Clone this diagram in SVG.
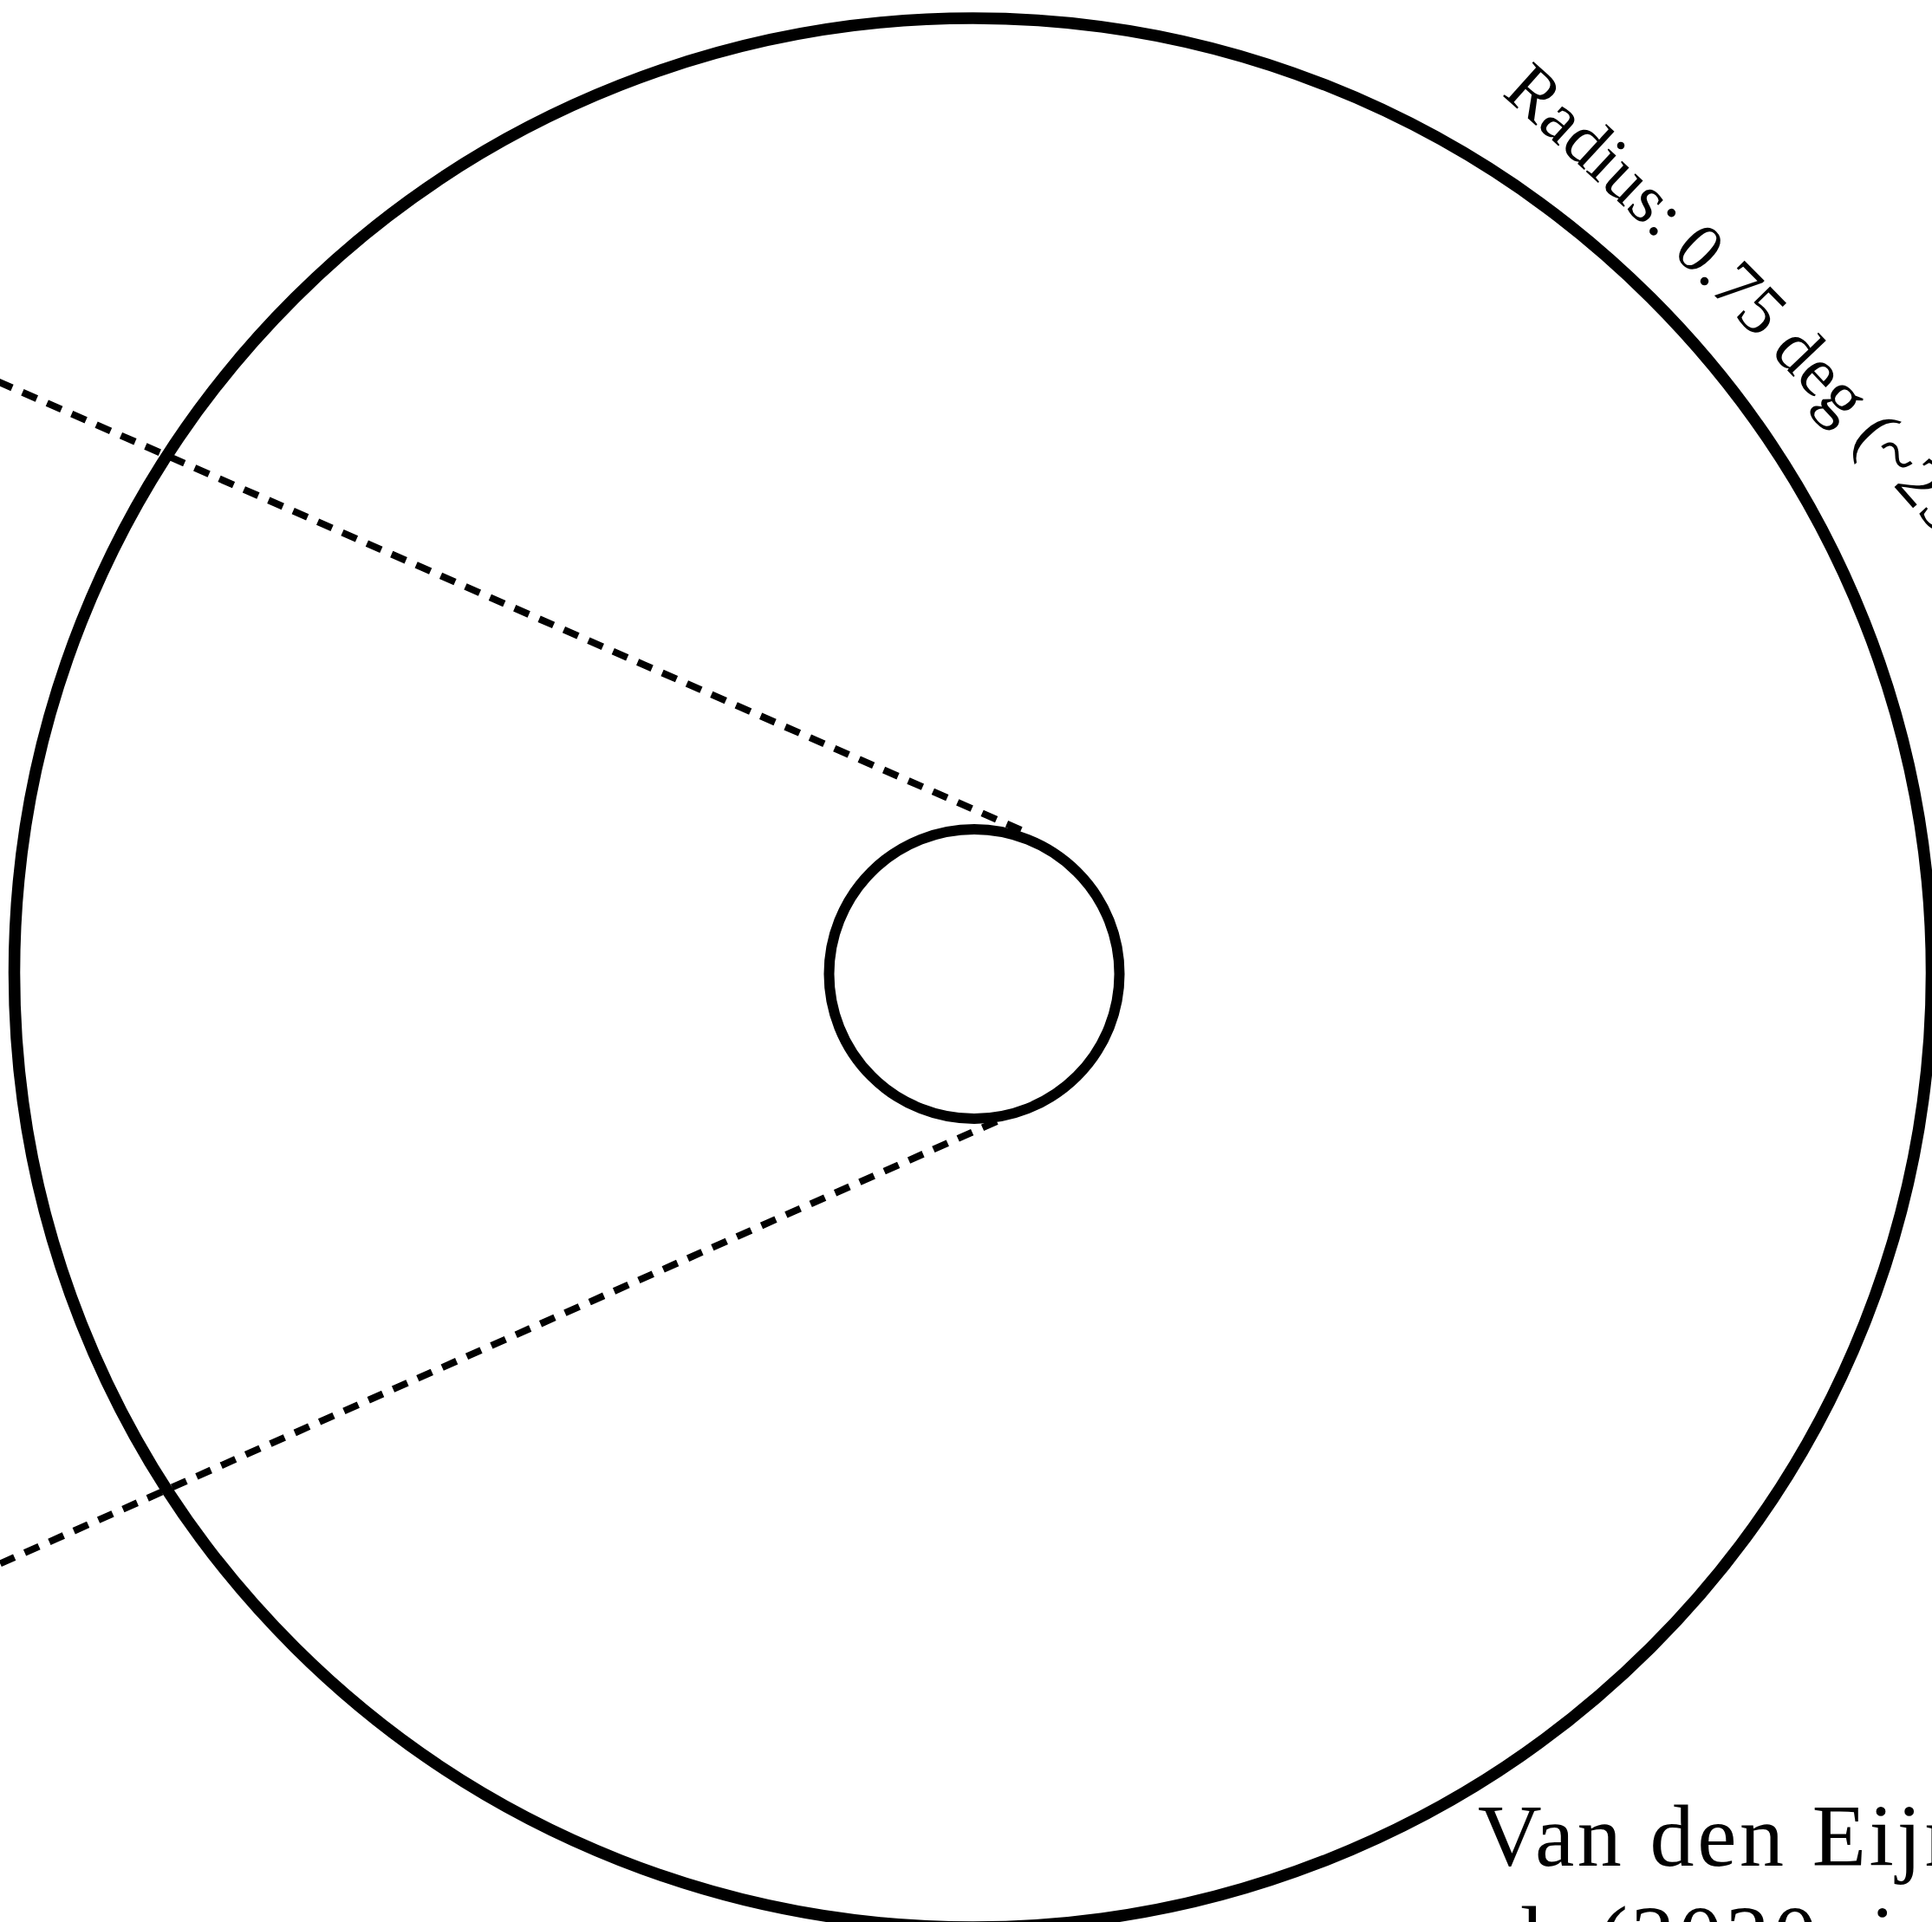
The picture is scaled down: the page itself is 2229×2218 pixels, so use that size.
<svg xmlns="http://www.w3.org/2000/svg" width="2229" height="2218" viewBox="0 0 2229 2218">
<style>
.ring{fill:none;stroke:#000}
.dash{fill:none;stroke:#000;stroke-width:8;stroke-dasharray:18 13}
.lbl{font-family:"Liberation Serif","Times New Roman",serif;fill:#000}
</style>
<defs>
<path id="radiusPath" d="M 1732 109 A 5400 5400 0 0 1 2500 950"/>
</defs>
<rect x="0" y="0" width="2229" height="2218" fill="#fff"/>
<g id="connectors">
<line class="dash" x1="1178" y1="958" x2="-10" y2="437"/>
<line class="dash" x1="1150" y1="1294" x2="-10" y2="1809"/>
</g>
<g id="outer-circle">
<ellipse class="ring" cx="1122.5" cy="1122.5" rx="1106" ry="1101.5" stroke-width="13.5"/>
</g>
<g id="inner-circle">
<ellipse class="ring" cx="1124" cy="1124" rx="167.5" ry="167" stroke-width="12"/>
</g>
<g id="radius-label">
<text class="lbl" font-size="81"><textPath href="#radiusPath">Radius: 0.75 deg (~25 pc)</textPath></text>
</g>
<g id="credit-label">
<text class="lbl" font-size="102" letter-spacing="3.6" x="1705" y="2153">Van den Eijnden et</text>
<text class="lbl" font-size="102" letter-spacing="3.6" x="1705" y="2270">al. (2020, in prep)</text>
</g>
</svg>
